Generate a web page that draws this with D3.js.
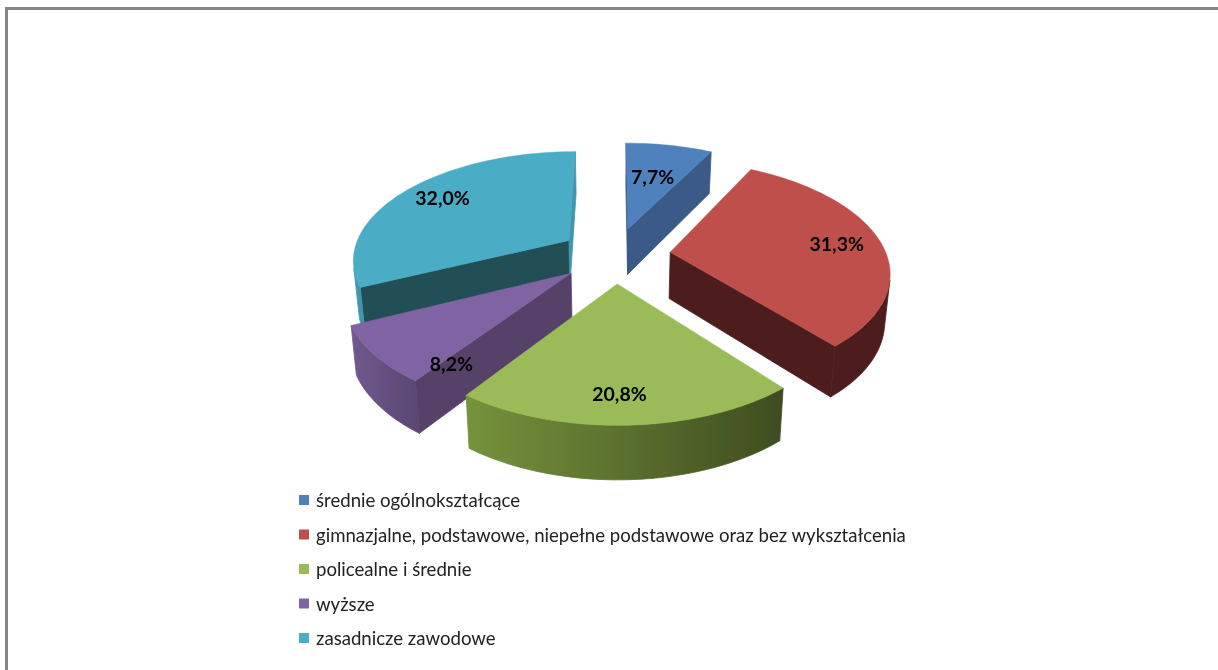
<!DOCTYPE html>
<html lang="pl">
<head>
<meta charset="utf-8">
<script src="https://cdn.jsdelivr.net/npm/d3@7"></script>
<style>
html,body{margin:0;padding:0;background:#fff;overflow:hidden}
svg{display:block}
text{font-family:Lato,"Open Sans",sans-serif}
</style>
</head>
<body>
<svg id="c" width="1218" height="670"></svg>
<script>
const categories = ["średnie ogólnokształcące","gimnazjalne, podstawowe, niepełne podstawowe oraz bez wykształcenia","policealne i średnie","wyższe","zasadnicze zawodowe"];
const shares = [7.7,31.3,20.8,8.2,32.0];
const labels = ["7,7%","31,3%","20,8%","8,2%","32,0%"];
const topColors = ["#4F81BD","#BE4F4C","#9BBB59","#8064A2","#4BACC6"];
const startFaceColors = ["#3A5A87","#4E1F1F","#76923C","#574368","#215057"];
const endFaceColors = ["#3A5A87","#4E1F1F","#76923C","#574368","#3F96AC"];
const rimStart = ["#3A5A87","#4E1F1F","#76923C","#6F5A8F","#3F96AC"];
const rimEnd = ["#3A5A87","#4E1F1F","#3F4D20","#5A4670","#3F96AC"];
const labelRadius = [0.82,0.98,1.03,1.0,1.03];
const labelNudge = [[-1,-1],[8,0],[-6,0],[28,29],[5,-1]];
const drawOrder = [4,0,3,1,2];

const svg = d3.select("#c");
const W = 1218, H = 670;

svg.append("path").attr("d",`M6.5 ${H}V8.5H${W}`).attr("fill","none").attr("stroke","#868686").attr("stroke-width",3);

const defs = svg.append("defs");
defs.append("filter").attr("id","soft").attr("filterUnits","userSpaceOnUse").attr("x",0).attr("y",0).attr("width",W).attr("height",H)
  .append("feGaussianBlur").attr("stdDeviation",0.5);

// Perspective projection of the pie's disc
const cx = 615, cy = 255, rx = 223, ry = 111, persp = 0.168, explode = 0.25, radius = 0.97, depth = 44.5, shrink = 0.98;
function proj(u,v,low){
  const w = 1 - persp*v;
  let x = rx*u/w, y = ry*v/w;
  if(low){ x *= shrink; y = y*shrink + depth/w + 2; }
  return [cx+x, cy+y];
}
const pie = d3.pie().sort(null).value(d=>d);
const arcs = pie(shares);
const line = d3.line();
const signedArea = q=>-d3.polygonArea(q);
const gPie = svg.append("g").attr("filter","url(#soft)");

drawOrder.forEach(i=>{
  const a = arcs[i];
  const mid = (a.startAngle+a.endAngle)/2;
  const ox = Math.sin(mid)*explode, oy = -Math.cos(mid)*explode;
  const pt = (t,r,low)=>proj(ox+Math.sin(t)*r, oy-Math.cos(t)*r, low);
  const g = gPie.append("g");
  const n = Math.max(8,Math.round((a.endAngle-a.startAngle)*40));
  const ts = d3.range(n+1).map(k=>a.startAngle+(a.endAngle-a.startAngle)*k/n);
  const face = (t,sign,col)=>{
    const q=[pt(t,0,false),pt(t,radius,false),pt(t,radius,true),pt(t,0,true)];
    if(signedArea(q)*sign>0) g.append("path").attr("d",line(q)+"Z").attr("fill",col).attr("stroke",col).attr("stroke-width",0.8);
  };
  face(a.startAngle,-1,startFaceColors[i]);
  face(a.endAngle,1,endFaceColors[i]);
  // outer rim: the visible run of the arc, shaded along x
  const vis = ts.filter((t,k)=>{
    const t2 = k<n ? ts[k+1] : ts[k-1];
    const q = k<n ? [pt(t,radius,false),pt(t2,radius,false),pt(t2,radius,true),pt(t,radius,true)]
                  : [pt(t2,radius,false),pt(t,radius,false),pt(t,radius,true),pt(t2,radius,true)];
    return signedArea(q)<0;
  });
  if(vis.length>1){
    const poly=[...vis.map(t=>pt(t,radius,false)),...vis.slice().reverse().map(t=>pt(t,radius,true))];
    const ext=d3.extent(poly,p=>p[0]);
    const gid="rim"+i;
    const lg=defs.append("linearGradient").attr("id",gid).attr("gradientUnits","userSpaceOnUse")
      .attr("x1",ext[0]).attr("x2",ext[1]).attr("y1",0).attr("y2",0);
    lg.append("stop").attr("offset",0).attr("stop-color",rimStart[i]);
    lg.append("stop").attr("offset",1).attr("stop-color",rimEnd[i]);
    g.append("path").attr("d",line(poly)+"Z").attr("fill",`url(#${gid})`).attr("stroke",`url(#${gid})`).attr("stroke-width",0.8);
  }
  const top=[pt(a.startAngle,0,false),...ts.map(t=>pt(t,radius,false))];
  g.append("path").attr("d",line(top)+"Z").attr("fill",topColors[i]).attr("stroke",topColors[i]).attr("stroke-width",0.5);
});

// Value labels
const gLabels = svg.append("g").attr("filter","url(#soft)");
arcs.forEach((a,i)=>{
  const mid=(a.startAngle+a.endAngle)/2;
  const t=labelRadius[i];
  const p=proj(Math.sin(mid)*t,-Math.cos(mid)*t,false);
  gLabels.append("text").attr("x",p[0]+labelNudge[i][0]).attr("y",p[1]+labelNudge[i][1])
    .attr("text-anchor","middle").attr("dominant-baseline","central")
    .attr("font-size",19.5).attr("font-weight",700).attr("fill","#000").text(labels[i]);
});

// Legend
const legendY = d3.scalePoint().domain(d3.range(categories.length)).range([500,638]);
const gLeg = svg.append("g").attr("filter","url(#soft)");
categories.forEach((c,i)=>{
  gLeg.append("rect").attr("x",299).attr("y",legendY(i)-5).attr("width",10).attr("height",10).attr("fill",topColors[i]);
  gLeg.append("text").attr("x",316).attr("y",legendY(i)).attr("dominant-baseline","central")
    .attr("font-size",18.6).attr("fill","#222").text(c);
});
</script>
</body>
</html>
